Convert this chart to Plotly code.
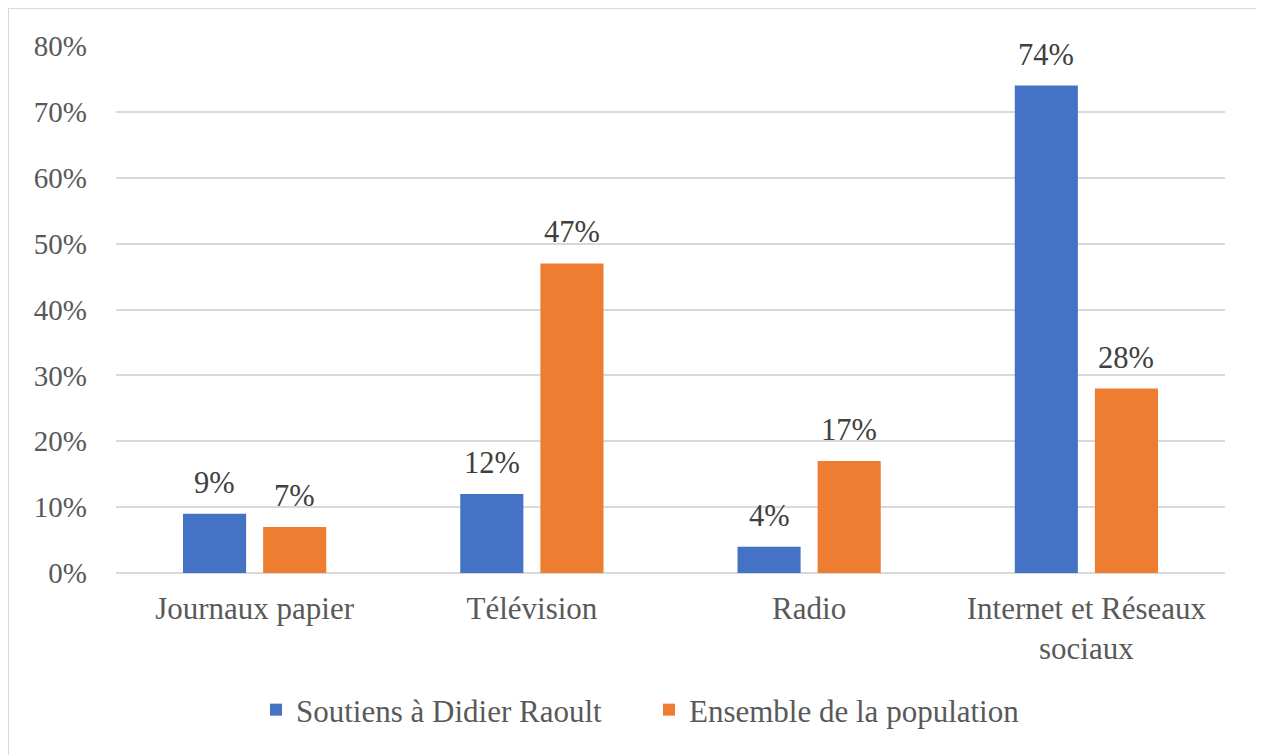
import plotly.graph_objects as go

categories = ["Journaux papier", "Télévision", "Radio", "Internet et Réseaux<br>sociaux"]
series_names = ["Soutiens à Didier Raoult", "Ensemble de la population"]
soutiens = [9, 12, 4, 74]
ensemble = [7, 47, 17, 28]
y_ticks = [0, 10, 20, 30, 40, 50, 60, 70, 80]
y_tick_labels = [f"{v}%" for v in y_ticks]

BLUE = "#4472C4"
ORANGE = "#ED7D31"
FONT = "Liberation Serif, Times New Roman, serif"

# page has an 8px body margin, so figure coordinates = screen - 8
OFF = 8
W, H = 1264, 755
L, R, T, B = 116 - OFF, 39 + OFF, 46 - OFF, 182 + OFF
pw, ph = W - L - R, H - T - B

fig = go.Figure()
fig.add_trace(go.Bar(x=categories, y=soutiens, name=series_names[0], marker_color=BLUE,
                     marker_line_width=0))
fig.add_trace(go.Bar(x=categories, y=ensemble, name=series_names[1], marker_color=ORANGE,
                     marker_line_width=0))

# data labels as annotations, offset over each bar
for vals, shift in ((soutiens, -40), (ensemble, 40)):
    for c, v in zip(categories, vals):
        fig.add_annotation(x=c, y=v, xref="x", yref="y", text=f"{v}%", showarrow=False,
                           xshift=shift, yshift=12, yanchor="bottom",
                           font=dict(family=FONT, size=30.5, color="#404040"))

# outer chart border (screen pixel coords -> paper coords)
def px_x(p):
    return (p - OFF - L) / pw

def px_y(p):
    return (H - B - (p - OFF)) / ph

fig.add_shape(type="rect", xref="paper", yref="paper",
              x0=px_x(8), x1=px_x(1262), y0=px_y(8), y1=px_y(756),
              line=dict(color="#d9d9d9", width=2), fillcolor="rgba(0,0,0,0)", layer="below")

fig.update_layout(
    width=W, height=H,
    margin=dict(l=L, r=R, t=T, b=B),
    paper_bgcolor="white", plot_bgcolor="white",
    barmode="group", bargap=0.422, bargroupgap=0.2125,
    font=dict(family=FONT, size=29, color="#595959"),
    showlegend=True,
    legend=dict(orientation="h", x=px_x(256), xanchor="left", y=px_y(710), yanchor="middle",
                entrywidth=348, entrywidthmode="pixels",
                font=dict(family=FONT, size=31, color="#595959"),
                itemsizing="constant", traceorder="normal"),
    xaxis=dict(showgrid=False, showline=False, ticks="", tickfont=dict(size=31, color="#595959"),
               ticklabelstandoff=14),
    yaxis=dict(range=[0, 80], tickvals=y_ticks, ticktext=y_tick_labels,
               showgrid=True, gridcolor="#d9d9d9", gridwidth=2,
               zeroline=True, zerolinecolor="#d9d9d9", zerolinewidth=2,
               showline=False, ticks="", ticklabelstandoff=28,
               tickfont=dict(size=29, color="#595959")),
)

fig.write_html("out.html")
